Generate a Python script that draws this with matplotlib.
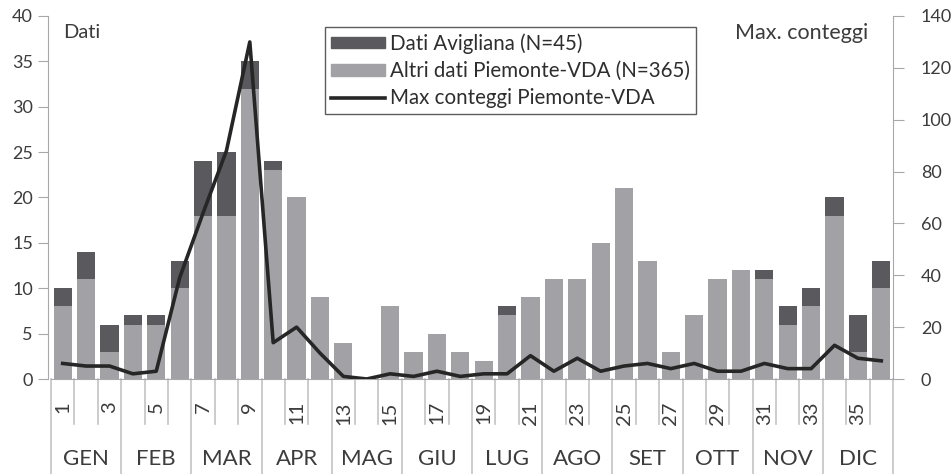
import matplotlib
matplotlib.use('Agg')
import matplotlib.pyplot as plt
import matplotlib.transforms as mtransforms
from matplotlib.patches import Patch
from matplotlib.lines import Line2D
import numpy as np

plt.rcParams['font.family'] = ['Lato', 'DejaVu Sans']

# 36 decadi (3 per mese)
decadi = list(range(1, 37))
mesi = ['GEN', 'FEB', 'MAR', 'APR', 'MAG', 'GIU',
        'LUG', 'AGO', 'SET', 'OTT', 'NOV', 'DIC']

# Altri dati Piemonte-VDA (N=365)
altri = [8, 11, 3, 6, 6, 10, 18, 18, 32, 23, 20, 9,
         4, 0, 8, 3, 5, 3, 2, 7, 9, 11, 11, 15,
         21, 13, 3, 7, 11, 12, 11, 6, 8, 18, 3, 10]
# Dati Avigliana (N=45)
avigliana = [2, 3, 3, 1, 1, 3, 6, 7, 3, 1, 0, 0,
             0, 0, 0, 0, 0, 0, 0, 1, 0, 0, 0, 0,
             0, 0, 0, 0, 0, 0, 1, 2, 2, 2, 4, 3]
# Max conteggi Piemonte-VDA (asse destro)
max_conteggi = [6, 5, 5, 2, 3, 39, 64, 88, 130, 14, 20, 10,
                1, 0, 2, 1, 3, 1, 2, 2, 9, 3, 8, 3,
                5, 6, 4, 6, 3, 3, 6, 4, 4, 13, 8, 7]

COL_LIGHT = '#a2a2a6'
COL_DARK = '#5a5a5e'
COL_LINE = '#262626'
COL_TEXT = '#3c3c3c'
COL_AXIS = '#a8a8a8'

W, H = 952, 474
fig = plt.figure(figsize=(W / 100, H / 100), dpi=100)
left, right, top, bottom = 51, 893, 16, 379
ax = fig.add_axes([left / W, 1 - bottom / H, (right - left) / W, (bottom - top) / H])

x = np.array(decadi)
ax.bar(x, altri, width=0.78, color=COL_LIGHT, zorder=2)
ax.bar(x, avigliana, width=0.78, bottom=altri, color=COL_DARK, zorder=2)

ax.set_xlim(0.5, 36.5)
ax.set_ylim(0, 40)
ax.set_yticks(range(0, 41, 5))
ax.tick_params(axis='y', direction='out', length=7, color=COL_AXIS,
               labelsize=13, labelcolor=COL_TEXT, pad=4)
ax.set_xticks(x[::2])
ax.set_xticklabels([str(d) for d in decadi[::2]], rotation=90, fontsize=14.5,
                   color=COL_TEXT)
ax.tick_params(axis='x', length=0, pad=16)
for lbl in ax.get_xticklabels():
    lbl.set_verticalalignment('top')

for s in ['top', 'right']:
    ax.spines[s].set_visible(False)
ax.spines['left'].set_color(COL_AXIS)
ax.spines['bottom'].set_color(COL_AXIS)
ax.spines['left'].set_position(('outward', 2))

# separatori sotto l'asse x
trans = mtransforms.blended_transform_factory(ax.transData, ax.transAxes)
h_ax = bottom - top
for k in range(37):
    xb = k + 0.5
    ymin = -95 / h_ax if k % 3 == 0 else -45 / h_ax
    ax.plot([xb, xb], [0, ymin], transform=trans, color='#c4c4c4', lw=1.2,
            clip_on=False, zorder=1)

for i, m in enumerate(mesi):
    ax.text(3 * i + 2, -80 / h_ax, m, transform=trans, ha='center', va='center',
            fontsize=16, color=COL_TEXT)

# asse destro
ax2 = ax.twinx()
ax2.plot(x, max_conteggi, color=COL_LINE, lw=2.6, zorder=3)
ax2.set_ylim(0, 140)
ax2.set_yticks(range(0, 141, 20))
ax2.tick_params(axis='y', direction='out', length=8, color=COL_AXIS,
                labelsize=13, labelcolor=COL_TEXT, pad=12)
for s in ['top', 'left', 'bottom']:
    ax2.spines[s].set_visible(False)
ax2.spines['right'].set_color(COL_AXIS)

fig.text(63 / W, 1 - 33 / H, 'Dati', ha='left', va='center', fontsize=14.5,
         color=COL_TEXT)
fig.text(868 / W, 1 - 33 / H, 'Max. conteggi', ha='right', va='center',
         fontsize=15.5, color=COL_TEXT)

handles = [Patch(color=COL_DARK), Patch(color=COL_LIGHT),
           Line2D([], [], color=COL_LINE, lw=2.6)]
labels = ['Dati Avigliana (N=45)', 'Altri dati Piemonte-VDA (N=365)',
          'Max conteggi Piemonte-VDA']
leg = ax2.legend(handles, labels, loc='upper left',
                 bbox_to_anchor=(325 / W, 1 - 27 / H), bbox_transform=fig.transFigure,
                 borderaxespad=0, fontsize=14.8, frameon=True, fancybox=False,
                 handlelength=2.6, handleheight=0.5, handletextpad=0.25,
                 labelspacing=0.35, borderpad=0.3)
leg.get_frame().set_edgecolor('#333333')
leg.get_frame().set_linewidth(1.0)
for t in leg.get_texts():
    t.set_color('#2e2e2e')

fig.savefig('out.png', dpi=100)
